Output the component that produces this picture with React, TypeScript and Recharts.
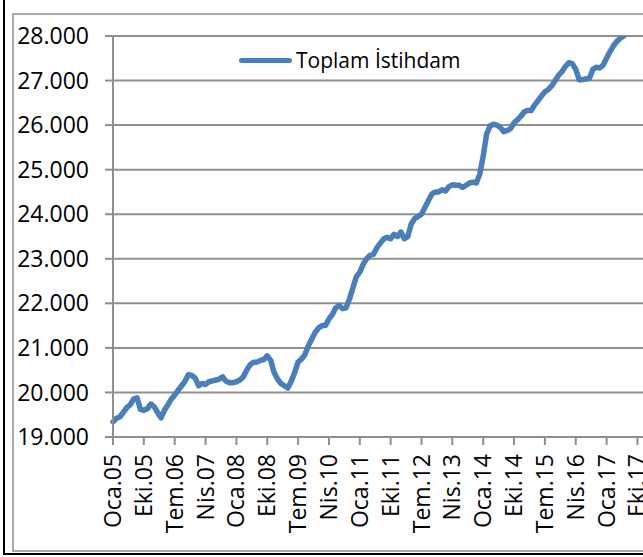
import { CartesianGrid, Legend, Line, LineChart, XAxis, YAxis } from "recharts";

const MONTH_NAMES = ["Oca", "Şub", "Mar", "Nis", "May", "Haz", "Tem", "Ağu", "Eyl", "Eki", "Kas", "Ara"];
const FIRST_YEAR = 5; // 2005
const CATEGORY_COUNT = 160;

// Toplam istihdam (bin kişi), Ocak 2005 - Haziran 2017
const totalEmployment = [
  19.34, 19.42, 19.45, 19.55, 19.66, 19.72, 19.85, 19.88, 19.62, 19.6,
  19.63, 19.74, 19.68, 19.55, 19.43, 19.6, 19.72, 19.85, 19.94, 20.05,
  20.15, 20.25, 20.4, 20.38, 20.32, 20.15, 20.2, 20.18, 20.24, 20.26,
  20.28, 20.3, 20.35, 20.25, 20.22, 20.22, 20.24, 20.28, 20.35, 20.5,
  20.62, 20.68, 20.68, 20.72, 20.74, 20.82, 20.72, 20.45, 20.3, 20.2,
  20.15, 20.1, 20.25, 20.45, 20.68, 20.75, 20.85, 21.05, 21.2, 21.35,
  21.45, 21.5, 21.5, 21.65, 21.75, 21.9, 21.95, 21.88, 21.9, 22.1,
  22.35, 22.6, 22.7, 22.88, 23.0, 23.08, 23.1, 23.25, 23.35, 23.45,
  23.48, 23.45, 23.55, 23.5, 23.6, 23.45, 23.5, 23.78, 23.9, 23.95,
  24.0, 24.15, 24.3, 24.45, 24.5, 24.5, 24.55, 24.52, 24.62, 24.66,
  24.65, 24.65, 24.6, 24.65, 24.7, 24.72, 24.7, 24.9, 25.3, 25.8,
  25.98, 26.02, 26.0, 25.95, 25.85, 25.88, 25.92, 26.05, 26.12, 26.2,
  26.3, 26.33, 26.33, 26.45, 26.55, 26.65, 26.75, 26.8, 26.88, 27.0,
  27.12, 27.2, 27.32, 27.4, 27.38, 27.25, 27.02, 27.02, 27.04, 27.05,
  27.25, 27.3, 27.28, 27.35, 27.5, 27.65, 27.78, 27.88, 27.95, 28.0,
];

const yTicks = [19, 20, 21, 22, 23, 24, 25, 26, 27, 28];

const months = Array.from({ length: CATEGORY_COUNT }, (_, i) => {
  const yr = FIRST_YEAR + Math.floor(i / 12);
  return `${MONTH_NAMES[i % 12]}.${String(yr).padStart(2, "0")}`;
});

const data = months.map((m, i) => ({
  month: m,
  total: i < totalEmployment.length ? totalEmployment[i] : null,
}));

const FONT = "'Open Sans', sans-serif";
const LINE_COLOR = "#4A7EBB";
const GRID = "#8f8f8f";

function MonthTick({ x, y, payload }: any) {
  return (
    <text
      x={x}
      y={y}
      dy="0.35em"
      textAnchor="end"
      fill="#000"
      fontSize={23}
      fontFamily={FONT}
      transform={`rotate(-90 ${x} ${y})`}
    >
      {payload.value}
    </text>
  );
}

function LegendBox() {
  return (
    <div
      style={{
        display: "flex",
        alignItems: "center",
        fontFamily: FONT,
        fontSize: 21,
        lineHeight: "28px",
        color: "#000",
        whiteSpace: "nowrap",
      }}
    >
      <span
        style={{
          display: "inline-block",
          width: 53,
          height: 5,
          borderRadius: 3,
          background: LINE_COLOR,
          marginRight: 4,
        }}
      />
      Toplam İstihdam
    </div>
  );
}

export default function App() {
  return (
    <div
      style={{
        position: "fixed",
        left: 0,
        top: 0,
        width: 643,
        height: 557,
        overflow: "hidden",
        background: "#fff",
      }}
    >
      <div style={{ position: "absolute", left: 3, top: 0, width: 2, height: 555, background: "#000" }} />
      <div style={{ position: "absolute", left: 3, top: 553, width: 640, height: 2, background: "#000" }} />
      <div
        style={{
          position: "absolute",
          left: 12,
          top: 13,
          width: 700,
          height: 535,
          borderTop: "2px solid #a8a8a8",
          borderLeft: "2px solid #a8a8a8",
          borderBottom: "2px solid #a8a8a8",
        }}
      />
      <div style={{ position: "absolute", left: 0, top: 0 }}>
        <LineChart
          width={658}
          height={557}
          data={data}
          margin={{ top: 36, right: 0, left: 0, bottom: 0 }}
        >
          <CartesianGrid vertical={false} stroke={GRID} strokeWidth={2} />
          <XAxis
            dataKey="month"
            interval={8}
            height={120}
            tickSize={8}
            tickMargin={9}
            stroke={GRID}
            strokeWidth={2}
            tick={<MonthTick />}
          />
          <YAxis
            width={113}
            domain={[19, 28]}
            ticks={yTicks}
            allowDataOverflow
            tickSize={8}
            tickMargin={16}
            stroke={GRID}
            strokeWidth={2}
            tickFormatter={(v: number) => v.toFixed(3)}
            tick={{ fill: "#000", fontSize: 23, fontFamily: FONT }}
          />
          <Legend
            layout="vertical"
            align="center"
            verticalAlign="middle"
            content={<LegendBox />}
            wrapperStyle={{ left: 239, top: 46 }}
          />
          <Line
            type="linear"
            dataKey="total"
            stroke={LINE_COLOR}
            strokeWidth={5.5}
            strokeLinejoin="round"
            strokeLinecap="round"
            dot={false}
            isAnimationActive={false}
          />
        </LineChart>
      </div>
    </div>
  );
}
